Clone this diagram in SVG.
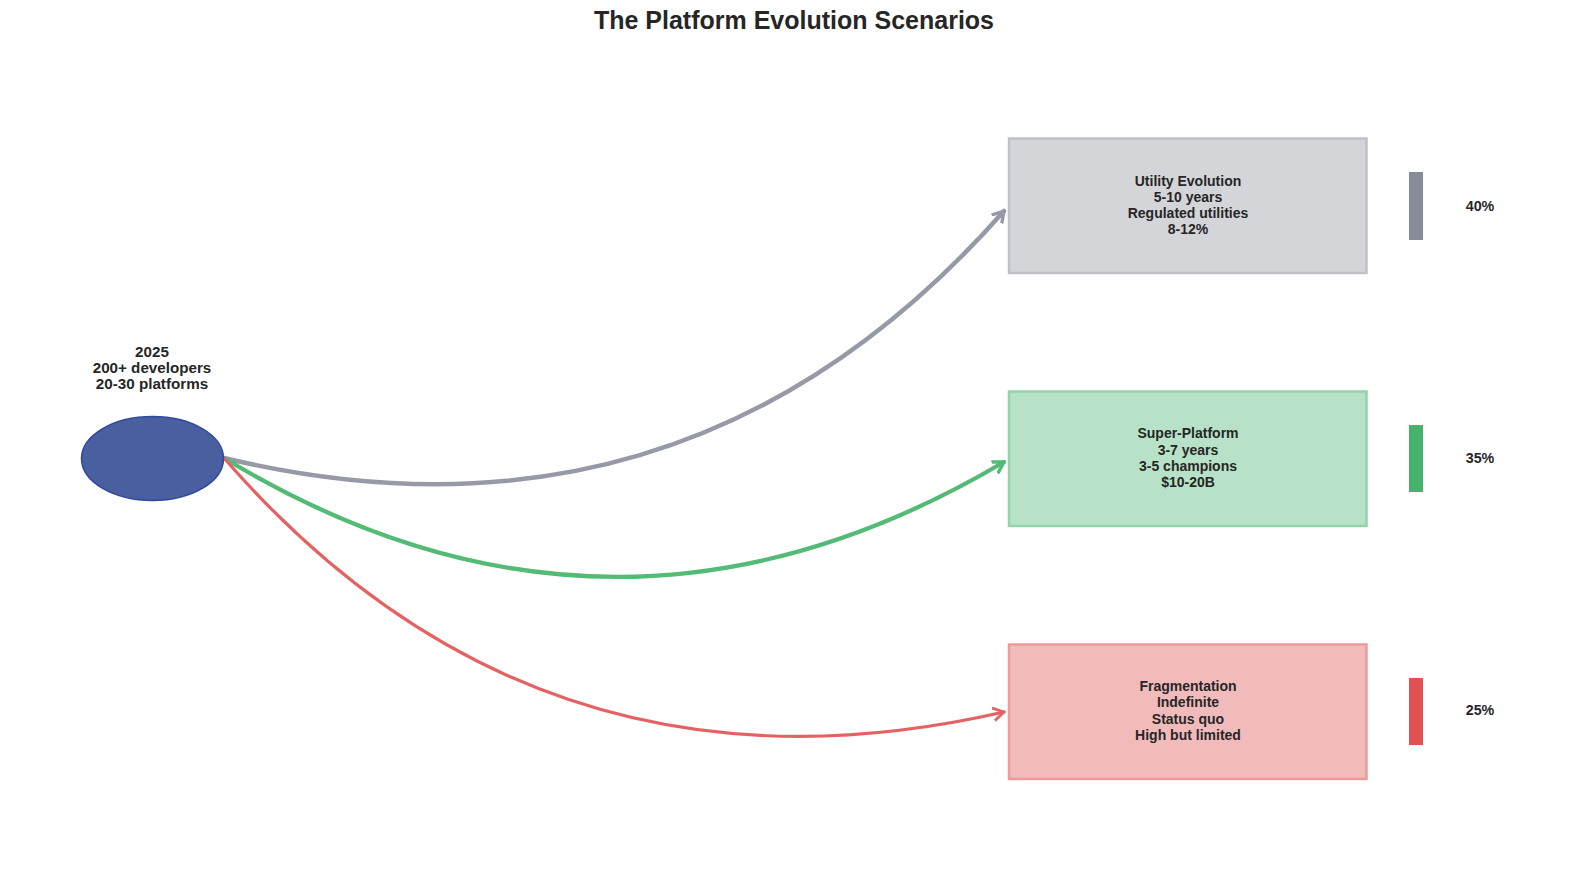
<svg xmlns="http://www.w3.org/2000/svg" width="1589" height="890" viewBox="0 0 1589 890">
<style>
text{font-family:"Liberation Sans",Arial,sans-serif;font-weight:bold;fill:#262626;text-anchor:middle}
.title{font-size:25px}
.lbl{font-size:15.2px}
.box{font-size:14px}
.pct{font-size:14.3px}
.conn{fill:none;stroke-linecap:round}
</style>
<defs>
<marker id="aG" markerUnits="userSpaceOnUse" markerWidth="16" markerHeight="16" refX="11" refY="7" orient="auto" viewBox="0 0 16 14"><path d="M1,1 L11,7 L1,13" fill="none" stroke="#959aa6" stroke-width="3.4" stroke-linecap="round" stroke-linejoin="round"/></marker>
<marker id="aV" markerUnits="userSpaceOnUse" markerWidth="16" markerHeight="16" refX="11" refY="7" orient="auto" viewBox="0 0 16 14"><path d="M1,1 L11,7 L1,13" fill="none" stroke="#53bb76" stroke-width="3.4" stroke-linecap="round" stroke-linejoin="round"/></marker>
<marker id="aR" markerUnits="userSpaceOnUse" markerWidth="16" markerHeight="16" refX="11" refY="7" orient="auto" viewBox="0 0 16 14"><path d="M1,1 L11,7 L1,13" fill="none" stroke="#e46262" stroke-width="2.8" stroke-linecap="round" stroke-linejoin="round"/></marker>
</defs>
<rect width="1589" height="890" fill="#ffffff"/>
<text class="title" x="794" y="28.5">The Platform Evolution Scenarios</text>

<g id="connectors">
<path class="conn" d="M224,458 Q688.6,568.8 1004,211" stroke="#959aa6" stroke-width="4.5" marker-end="url(#aG)"/>
<path class="conn" d="M224,458 Q612.3,693.7 1004,462" stroke="#53bb76" stroke-width="4.3" marker-end="url(#aV)"/>
<path class="conn" d="M224,458 Q537.3,818.7 1004,712" stroke="#e46262" stroke-width="3.2" marker-end="url(#aR)"/>
</g>

<g id="start">
<ellipse cx="152.5" cy="458.5" rx="71" ry="42" fill="#4a5f9f" stroke="#2f4a9c" stroke-width="1.5"/>
<text class="lbl" x="152" y="356.5">2025</text>
<text class="lbl" x="152" y="372.5">200+ developers</text>
<text class="lbl" x="152" y="388.5">20-30 platforms</text>
</g>

<g id="utility">
<rect x="1009" y="138.5" width="357.5" height="134.5" fill="#d4d5d9" stroke="#bfc1c7" stroke-width="2.5"/>
<text class="box" x="1188" y="186">Utility Evolution</text>
<text class="box" x="1188" y="202">5-10 years</text>
<text class="box" x="1188" y="218">Regulated utilities</text>
<text class="box" x="1188" y="234">8-12%</text>
<rect x="1409" y="172" width="14" height="68" fill="#878c99"/>
<text class="pct" x="1480" y="210.5">40%</text>
</g>

<g id="super">
<rect x="1009" y="391.5" width="357.5" height="134.5" fill="#b8e2c8" stroke="#93d2aa" stroke-width="2.5"/>
<text class="box" x="1188" y="438">Super-Platform</text>
<text class="box" x="1188" y="455">3-7 years</text>
<text class="box" x="1188" y="471">3-5 champions</text>
<text class="box" x="1188" y="487">$10-20B</text>
<rect x="1409" y="425" width="14" height="67" fill="#45b36b"/>
<text class="pct" x="1480" y="463">35%</text>
</g>

<g id="fragmentation">
<rect x="1009" y="644.5" width="357.5" height="134.5" fill="#f2bbbb" stroke="#ee9a9b" stroke-width="2.5"/>
<text class="box" x="1188" y="691">Fragmentation</text>
<text class="box" x="1188" y="707">Indefinite</text>
<text class="box" x="1188" y="724">Status quo</text>
<text class="box" x="1188" y="740">High but limited</text>
<rect x="1409" y="678" width="14" height="67" fill="#e05252"/>
<text class="pct" x="1480" y="715">25%</text>
</g>
</svg>
